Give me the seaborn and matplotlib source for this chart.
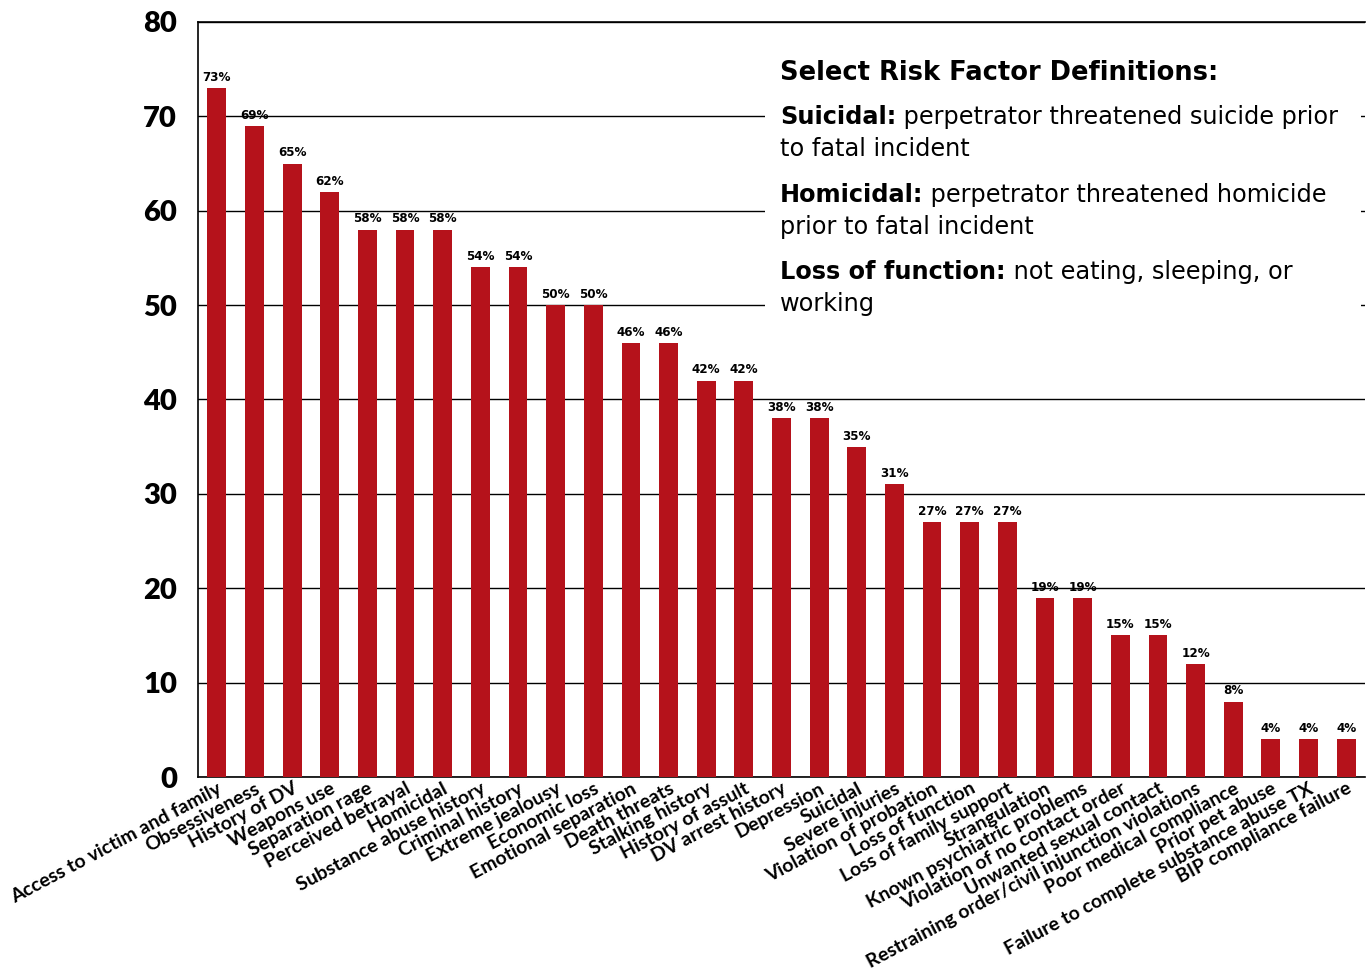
import numpy as np
import matplotlib
matplotlib.use('Agg')
import matplotlib.pyplot as plt
from matplotlib.patches import Rectangle
import seaborn as sns

factors = ['Access to victim and family', 'Obsessiveness', 'History of DV', 'Weapons use',
           'Separation rage', 'Perceived betrayal', 'Homicidal', 'Substance abuse history',
           'Criminal history', 'Extreme jealousy', 'Economic loss', 'Emotional separation',
           'Death threats', 'Stalking history', 'History of assult', 'DV arrest history',
           'Depression', 'Suicidal', 'Severe injuries', 'Violation of probation',
           'Loss of function', 'Loss of family support', 'Strangulation',
           'Known psychiatric problems', 'Violation of no contact order',
           'Unwanted sexual contact', 'Restraining order/civil injunction violations',
           'Poor medical compliance', 'Prior pet abuse',
           'Failure to complete substance abuse TX', 'BIP compliance failure']
pct = [73, 69, 65, 62, 58, 58, 58, 54, 54, 50, 50, 46, 46, 42, 42, 38, 38, 35, 31,
       27, 27, 27, 19, 19, 15, 15, 12, 8, 4, 4, 4]
yticks = [0, 10, 20, 30, 40, 50, 60, 70, 80]

defs_title = 'Select Risk Factor Definitions:'
defs = [('Suicidal:', ' perpetrator threatened suicide prior', 'to fatal incident'),
        ('Homicidal:', ' perpetrator threatened homicide', 'prior to fatal incident'),
        ('Loss of function:', ' not eating, sleeping, or', 'working')]

bar_color = '#B5121B'

sns.set_style('white')
plt.rcParams['font.family'] = ['DejaVu Sans']
plt.rcParams['text.color'] = 'black'
plt.rcParams['xtick.color'] = 'black'
plt.rcParams['ytick.color'] = 'black'

fig = plt.figure(figsize=(13.66, 9.72), dpi=100)
ax = fig.add_axes([198/1366, 1 - 777/972, 1167/1366, 755/972])

sns.barplot(x=factors, y=pct, color=bar_color, width=0.5, saturation=1, ax=ax,
            zorder=3, linewidth=0)

ax.set_ylim(0, 80)
ax.set_xlim(-0.5, len(factors) - 0.5)
ax.set_yticks(yticks)
ax.set_yticklabels([str(v) for v in yticks], fontsize=21, fontweight='heavy', family='Lato')
ax.tick_params(axis='y', length=0, pad=15)
ax.tick_params(axis='x', length=0, pad=2)
ax.set_xticks(range(len(factors)))
ax.set_xticklabels(factors, rotation=28, ha='right', va='top', rotation_mode='anchor',
                   fontsize=14, fontweight='bold', family='Lato')
ax.set_xlabel('')
ax.set_ylabel('')

ax.yaxis.grid(True, color='black', linewidth=1)
ax.set_axisbelow(True)
for s in ['left', 'bottom', 'top']:
    ax.spines[s].set_color('black')
    ax.spines[s].set_linewidth(1.2)
ax.spines['right'].set_visible(False)

for c in ax.containers:
    ax.bar_label(c, labels=[f'{v}%' for v in pct], padding=3, fontsize=9.5,
                 fontweight='bold', fontstretch='condensed')

# white panel behind definitions
ax.add_patch(Rectangle((0.486, 0.60), 0.511, 0.365, transform=ax.transAxes,
                       facecolor='white', edgecolor='none', zorder=2))

fx = 780 / 1366
fig.text(fx, 1 - 73/972, defs_title, fontsize=18.5, fontweight='heavy', va='center')
line_y = [(117, 149), (195, 227), (272, 304)]
for (b, rest, second), (y1, y2) in zip(defs, line_y):
    t = fig.text(fx, 1 - y1/972, b, fontsize=17.3, fontweight='bold', va='center')
    ax.annotate(rest, xy=(1, 0), xycoords=t, va='bottom', ha='left', fontsize=17.3,
                annotation_clip=False)
    fig.text(fx, 1 - y2/972, second, fontsize=17.3, va='center')

fig.savefig('out.png', dpi=100)
